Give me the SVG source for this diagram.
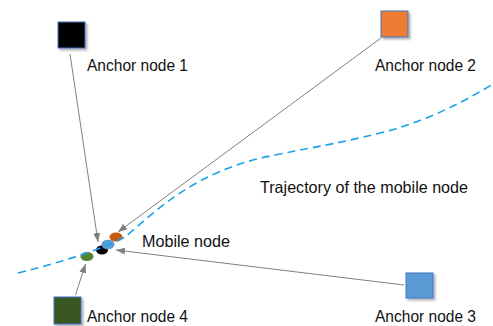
<svg xmlns="http://www.w3.org/2000/svg" width="493" height="326" viewBox="0 0 493 326">
<style>
.sq{stroke:#4472c4;stroke-width:1;filter:url(#sh)}
.lbl{font-family:"Liberation Sans",Arial,sans-serif;font-size:16.5px;fill:#111}
.con{stroke:#7f7f7f;stroke-width:1;fill:none;marker-end:url(#ah)}
.traj{stroke:#1aa3e8;stroke-width:1.6;fill:none;stroke-dasharray:8 5}
</style>
<defs>
<filter id="sh" x="-20%" y="-20%" width="150%" height="150%">
<feDropShadow dx="2" dy="2" stdDeviation="1.2" flood-color="#000" flood-opacity="0.3"/>
</filter>
<marker id="ah" markerUnits="userSpaceOnUse" markerWidth="9" markerHeight="7" refX="9" refY="3.5" orient="auto">
<path d="M0,0 L9,3.5 L0,7 z" fill="#7f7f7f"/>
</marker>
</defs>
<rect width="493" height="326" fill="#fff"/>
<g id="mobile-node">
<ellipse cx="102" cy="250" rx="6" ry="4.5" fill="#000"/>
<ellipse cx="108" cy="244.5" rx="6.5" ry="4.8" fill="#5b9bd5"/>
<ellipse cx="116" cy="237" rx="6.5" ry="4.5" fill="#c55a11"/>
<ellipse cx="87" cy="256.5" rx="6.5" ry="4.5" fill="#548235"/>
<text class="lbl" x="142" y="247" textLength="88" lengthAdjust="spacingAndGlyphs">Mobile node</text>
</g>
<g id="trajectory">
<path class="traj" d="M18,273 Q90,255 125,237 C155,212 195,170 275,155 C320,146 340,143 380,133 C420,123 455,107 493,84"/>
<text class="lbl" x="260" y="193" textLength="208" lengthAdjust="spacingAndGlyphs">Trajectory of the mobile node</text>
</g>
<g id="anchor1">
<rect class="sq" x="58" y="22" width="27" height="26" fill="#000"/>
<text class="lbl" x="87" y="71" textLength="101" lengthAdjust="spacingAndGlyphs">Anchor node 1</text>
</g>
<g id="anchor2">
<rect class="sq" x="381" y="11" width="27" height="26" fill="#ed7d31"/>
<text class="lbl" x="375" y="71" textLength="101" lengthAdjust="spacingAndGlyphs">Anchor node 2</text>
</g>
<g id="anchor3">
<rect class="sq" x="406" y="273" width="27" height="25" fill="#5b9bd5"/>
<text class="lbl" x="375" y="322" textLength="101" lengthAdjust="spacingAndGlyphs">Anchor node 3</text>
</g>
<g id="anchor4">
<rect class="sq" x="54" y="297" width="27" height="27" fill="#375623"/>
<text class="lbl" x="87" y="322" textLength="101" lengthAdjust="spacingAndGlyphs">Anchor node 4</text>
</g>
<g id="connectors">
<path class="con" d="M70,54 L98,242"/>
<path class="con" d="M381,38 L118,232"/>
<path class="con" d="M404,285 L116,250"/>
<path class="con" d="M75.5,295 L85.5,264"/>
</g>
</svg>
